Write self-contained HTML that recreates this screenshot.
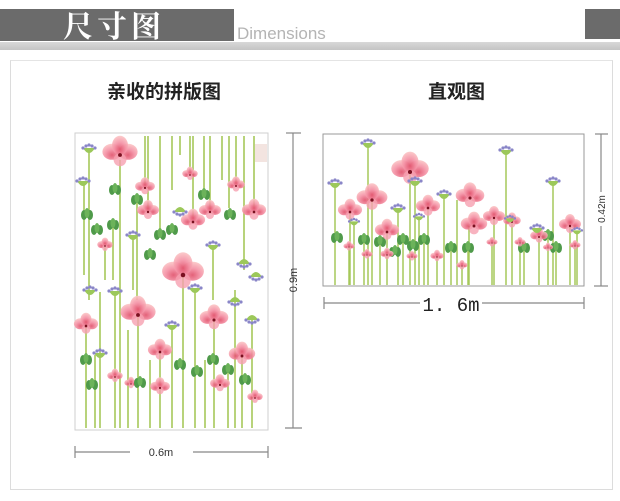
<!DOCTYPE html>
<html><head><meta charset="utf-8"><style>
html,body{margin:0;padding:0;background:#fff;width:620px;height:501px;overflow:hidden;position:relative;font-family:"Liberation Sans","Noto Sans CJK SC",sans-serif}
.a{position:absolute}
</style></head><body>
<div class="a" style="left:0;top:9px;width:234px;height:32px;background:#6b6b6b"></div>
<div class="a" style="left:63px;top:6px;font-family:'Noto Serif CJK SC',serif;font-size:30px;font-weight:bold;color:#fff;letter-spacing:4px;line-height:36px">尺寸图</div>
<div class="a" style="left:237px;top:24px;font-size:17px;color:#b4b4b4;line-height:20px">Dimensions</div>
<div class="a" style="left:585px;top:9px;width:35px;height:30px;background:#6b6b6b"></div>
<div class="a" style="left:0;top:42px;width:620px;height:8px;background:linear-gradient(#d8d8d8,#c4c4c4)"></div>
<div class="a" style="left:10px;top:60px;width:601px;height:428px;border:1px solid #dcdcdc;border-top-color:#e4e4e4"></div>
<div class="a" style="left:107px;top:81px;font-size:19px;font-weight:bold;color:#222;line-height:24px">亲收的拼版图</div>
<div class="a" style="left:428px;top:81px;font-size:19px;font-weight:bold;color:#222;line-height:24px">直观图</div>
<svg class="a" style="left:0;top:0" width="620" height="501" viewBox="0 0 620 501">
<defs>
<radialGradient id="pg" cx="50%" cy="70%" r="70%"><stop offset="0" stop-color="#e0506a"/><stop offset="0.5" stop-color="#f490a4"/><stop offset="1" stop-color="#fbc6c6"/></radialGradient>
<g id="fl"><ellipse cx="-5" cy="-2" rx="6" ry="5" fill="url(#pg)" opacity=".9"/><ellipse cx="5" cy="-2" rx="6" ry="5" fill="url(#pg)" opacity=".9"/><ellipse cx="0" cy="-6" rx="5" ry="6" fill="url(#pg)" opacity=".9"/><ellipse cx="0" cy="3" rx="4" ry="4" fill="#f6a0b0" opacity=".8"/><circle r="1.2" fill="#7a1020"/></g>
<g id="bd"><ellipse cx="-3" cy="0" rx="3" ry="5" fill="#4f9a4a"/><ellipse cx="3" cy="0" rx="3" ry="5" fill="#4f9a4a"/><ellipse cx="0" cy="-2" rx="2.5" ry="5" fill="#6cb35a"/></g>
<g id="hd"><path d="M-6,-2 Q0,8 6,-2 Z" fill="#9cc85a"/><circle cx="-6" cy="-2" r="1.6" fill="#8a86c8"/><circle cx="-3" cy="-4" r="1.6" fill="#8a86c8"/><circle cx="0" cy="-5" r="1.6" fill="#8a86c8"/><circle cx="3" cy="-4" r="1.6" fill="#8a86c8"/><circle cx="6" cy="-2" r="1.6" fill="#8a86c8"/></g>
</defs>
<rect x="75" y="133" width="193" height="297" fill="#fff" stroke="#cfcfcf"/>
<g stroke="#a6c85a" stroke-width="1.6">
<line x1="120" y1="160" x2="120" y2="428"/><line x1="89" y1="152" x2="89" y2="300"/><line x1="84" y1="185" x2="84" y2="275"/><line x1="137" y1="200" x2="137" y2="300"/>
<line x1="145" y1="136" x2="145" y2="188"/><line x1="190" y1="136" x2="190" y2="175"/><line x1="236" y1="136" x2="236" y2="186"/><line x1="160" y1="136" x2="160" y2="235"/>
<line x1="148" y1="136" x2="148" y2="212"/><line x1="193" y1="136" x2="193" y2="222"/><line x1="210" y1="136" x2="210" y2="212"/><line x1="254" y1="136" x2="254" y2="212"/>
<line x1="172" y1="136" x2="172" y2="190"/><line x1="204" y1="136" x2="204" y2="195"/><line x1="222" y1="136" x2="222" y2="180"/><line x1="244" y1="136" x2="244" y2="270"/><line x1="229" y1="136" x2="229" y2="208"/><line x1="180" y1="136" x2="180" y2="155"/>
<line x1="183" y1="275" x2="183" y2="428"/><line x1="195" y1="290" x2="195" y2="428"/><line x1="138" y1="315" x2="138" y2="428"/><line x1="214" y1="320" x2="214" y2="428"/>
<line x1="160" y1="352" x2="160" y2="428"/><line x1="242" y1="356" x2="242" y2="428"/><line x1="100" y1="292" x2="100" y2="428"/><line x1="115" y1="293" x2="115" y2="428"/>
<line x1="172" y1="327" x2="172" y2="428"/><line x1="86" y1="326" x2="86" y2="428"/><line x1="128" y1="330" x2="128" y2="428"/><line x1="150" y1="360" x2="150" y2="428"/>
<line x1="205" y1="360" x2="205" y2="428"/><line x1="228" y1="370" x2="228" y2="428"/><line x1="252" y1="318" x2="252" y2="428"/><line x1="95" y1="355" x2="95" y2="428"/><line x1="235" y1="290" x2="235" y2="428"/><line x1="213" y1="247" x2="213" y2="300"/><line x1="133" y1="237" x2="133" y2="290"/><line x1="105" y1="246" x2="105" y2="280"/><line x1="113" y1="225" x2="113" y2="280"/>
</g>
<use href="#fl" transform="translate(120,155) scale(1.6)"/><use href="#fl" transform="translate(145,188) scale(.9)"/><use href="#fl" transform="translate(190,175) scale(.7)"/><use href="#fl" transform="translate(236,186) scale(.8)"/><use href="#fl" transform="translate(148,212) scale(1)"/><use href="#fl" transform="translate(193,222) scale(1.1)"/><use href="#fl" transform="translate(210,212) scale(1)"/><use href="#fl" transform="translate(254,212) scale(1.1)"/><use href="#fl" transform="translate(105,246) scale(.7)"/><use href="#fl" transform="translate(183,275) scale(1.9)"/><use href="#fl" transform="translate(138,315) scale(1.6)"/><use href="#fl" transform="translate(214,320) scale(1.3)"/><use href="#fl" transform="translate(160,352) scale(1.1)"/><use href="#fl" transform="translate(242,356) scale(1.2)"/><use href="#fl" transform="translate(115,377) scale(.7)"/><use href="#fl" transform="translate(131,384) scale(.6)"/><use href="#fl" transform="translate(160,388) scale(.9)"/><use href="#fl" transform="translate(220,385) scale(.9)"/><use href="#fl" transform="translate(255,398) scale(.7)"/><use href="#fl" transform="translate(86,326) scale(1.1)"/>
<use href="#bd" transform="translate(115,190)"/><use href="#bd" transform="translate(87,215)"/><use href="#bd" transform="translate(137,200)"/><use href="#bd" transform="translate(160,235)"/><use href="#bd" transform="translate(150,255)"/><use href="#bd" transform="translate(113,225)"/><use href="#bd" transform="translate(230,215)"/><use href="#bd" transform="translate(97,230)"/><use href="#bd" transform="translate(180,365)"/><use href="#bd" transform="translate(213,360)"/><use href="#bd" transform="translate(197,372)"/><use href="#bd" transform="translate(228,370)"/><use href="#bd" transform="translate(86,360)"/><use href="#bd" transform="translate(92,385)"/><use href="#bd" transform="translate(140,383)"/><use href="#bd" transform="translate(245,380)"/><use href="#bd" transform="translate(172,230)"/><use href="#bd" transform="translate(204,195)"/>
<use href="#hd" transform="translate(89,150)"/><use href="#hd" transform="translate(83,183)"/><use href="#hd" transform="translate(90,292)"/><use href="#hd" transform="translate(115,293)"/><use href="#hd" transform="translate(133,237)"/><use href="#hd" transform="translate(213,247)"/><use href="#hd" transform="translate(172,327)"/><use href="#hd" transform="translate(100,355)"/><use href="#hd" transform="translate(235,300) scale(1,-1)"/><use href="#hd" transform="translate(256,275) scale(1,-1)"/><use href="#hd" transform="translate(252,318) scale(1,-1)"/><use href="#hd" transform="translate(195,290)"/><use href="#hd" transform="translate(244,262) scale(1,-1)"/><use href="#hd" transform="translate(180,210) scale(1,-1)"/>
<g stroke="#888" stroke-width="1.2" fill="none">
<line x1="293" y1="133" x2="293" y2="428"/><line x1="286" y1="133" x2="301" y2="133"/><line x1="285" y1="428" x2="302" y2="428"/>
<line x1="75" y1="452" x2="130" y2="452"/><line x1="193" y1="452" x2="268" y2="452"/><line x1="75" y1="446" x2="75" y2="458"/><line x1="268" y1="446" x2="268" y2="458"/>
<line x1="601" y1="134" x2="601" y2="192"/><line x1="601" y1="226" x2="601" y2="286"/><line x1="595" y1="134" x2="608" y2="134"/><line x1="594" y1="286" x2="608" y2="286"/>
<line x1="324" y1="303" x2="420" y2="303"/><line x1="482" y1="303" x2="584" y2="303"/><line x1="324" y1="297" x2="324" y2="309"/><line x1="584" y1="297" x2="584" y2="309"/>
</g>
<rect x="255" y="144" width="12" height="18" fill="#f3e4e0"/>
<rect x="323" y="134" width="261" height="152" fill="none" stroke="#999"/>
<g stroke="#a6c85a" stroke-width="1.5">
<line x1="335" y1="185" x2="335" y2="285"/><line x1="368" y1="145" x2="368" y2="285"/><line x1="350" y1="212" x2="350" y2="285"/><line x1="372" y1="200" x2="372" y2="285"/><line x1="410" y1="172" x2="410" y2="285"/><line x1="415" y1="183" x2="415" y2="285"/><line x1="387" y1="232" x2="387" y2="285"/><line x1="398" y1="210" x2="398" y2="285"/><line x1="428" y1="208" x2="428" y2="285"/><line x1="444" y1="196" x2="444" y2="285"/><line x1="457" y1="200" x2="457" y2="285"/><line x1="469" y1="226" x2="469" y2="285"/><line x1="494" y1="218" x2="494" y2="285"/><line x1="506" y1="152" x2="506" y2="285"/><line x1="512" y1="220" x2="512" y2="285"/><line x1="539" y1="237" x2="539" y2="285"/><line x1="553" y1="183" x2="553" y2="285"/><line x1="570" y1="226" x2="570" y2="285"/><line x1="577" y1="232" x2="577" y2="285"/><line x1="354" y1="223" x2="354" y2="285"/><line x1="419" y1="218" x2="419" y2="285"/><line x1="364" y1="240" x2="364" y2="285"/><line x1="380" y1="242" x2="380" y2="285"/><line x1="403" y1="240" x2="403" y2="285"/><line x1="424" y1="240" x2="424" y2="285"/><line x1="451" y1="248" x2="451" y2="285"/><line x1="468" y1="248" x2="468" y2="285"/><line x1="524" y1="248" x2="524" y2="285"/><line x1="548" y1="236" x2="548" y2="285"/><line x1="556" y1="248" x2="556" y2="285"/><line x1="437" y1="257" x2="437" y2="285"/><line x1="462" y1="266" x2="462" y2="285"/><line x1="492" y1="243" x2="492" y2="285"/><line x1="520" y1="243" x2="520" y2="285"/><line x1="575" y1="246" x2="575" y2="285"/><line x1="349" y1="247" x2="349" y2="285"/>
</g>
<use href="#bd" transform="translate(364,240)"/><use href="#bd" transform="translate(380,242)"/><use href="#bd" transform="translate(403,240)"/><use href="#bd" transform="translate(424,240)"/><use href="#bd" transform="translate(451,248)"/><use href="#bd" transform="translate(468,248)"/><use href="#bd" transform="translate(524,248)"/><use href="#bd" transform="translate(548,236)"/><use href="#bd" transform="translate(556,248)"/><use href="#bd" transform="translate(337,238)"/><use href="#bd" transform="translate(413,246)"/><use href="#bd" transform="translate(395,252)"/>
<use href="#fl" transform="translate(350,212) scale(1.1)"/><use href="#fl" transform="translate(372,200) scale(1.4)"/><use href="#fl" transform="translate(410,172) scale(1.7)"/><use href="#fl" transform="translate(387,232) scale(1.1)"/><use href="#fl" transform="translate(428,208) scale(1.1)"/><use href="#fl" transform="translate(470,198) scale(1.3)"/><use href="#fl" transform="translate(474,226) scale(1.2)"/><use href="#fl" transform="translate(494,218) scale(1)"/><use href="#fl" transform="translate(512,222) scale(.8)"/><use href="#fl" transform="translate(539,237) scale(.8)"/><use href="#fl" transform="translate(570,226) scale(1)"/><use href="#fl" transform="translate(387,255) scale(.6)"/><use href="#fl" transform="translate(412,257) scale(.5)"/><use href="#fl" transform="translate(349,247) scale(.5)"/><use href="#fl" transform="translate(437,257) scale(.6)"/><use href="#fl" transform="translate(462,266) scale(.5)"/><use href="#fl" transform="translate(492,243) scale(.5)"/><use href="#fl" transform="translate(520,243) scale(.5)"/><use href="#fl" transform="translate(548,248) scale(.45)"/><use href="#fl" transform="translate(575,246) scale(.5)"/><use href="#fl" transform="translate(367,255) scale(.5)"/>
<use href="#hd" transform="translate(335,185)"/><use href="#hd" transform="translate(368,145)"/><use href="#hd" transform="translate(415,183)"/><use href="#hd" transform="translate(398,210)"/><use href="#hd" transform="translate(444,196)"/><use href="#hd" transform="translate(506,152)"/><use href="#hd" transform="translate(553,183)"/><use href="#hd" transform="translate(537,230)"/><use href="#hd" transform="translate(577,232) scale(.8)"/><use href="#hd" transform="translate(419,218) scale(.8)"/><use href="#hd" transform="translate(354,223) scale(.8)"/><use href="#hd" transform="translate(510,220) scale(.8)"/>
<text x="161" y="456" font-family="Liberation Sans, sans-serif" font-size="11" fill="#333" text-anchor="middle">0.6m</text>
<text x="297" y="280" font-family="Liberation Sans, sans-serif" font-size="11" fill="#333" text-anchor="middle" transform="rotate(-90 297 280)">0.9m</text>
<text x="451" y="311" font-family="Liberation Mono, monospace" font-size="19" fill="#222" text-anchor="middle">1. 6m</text>
<text x="605" y="209" font-family="Liberation Sans, sans-serif" font-size="10" fill="#333" text-anchor="middle" transform="rotate(-90 605 209)">0.42m</text>
</svg>
</body></html>
